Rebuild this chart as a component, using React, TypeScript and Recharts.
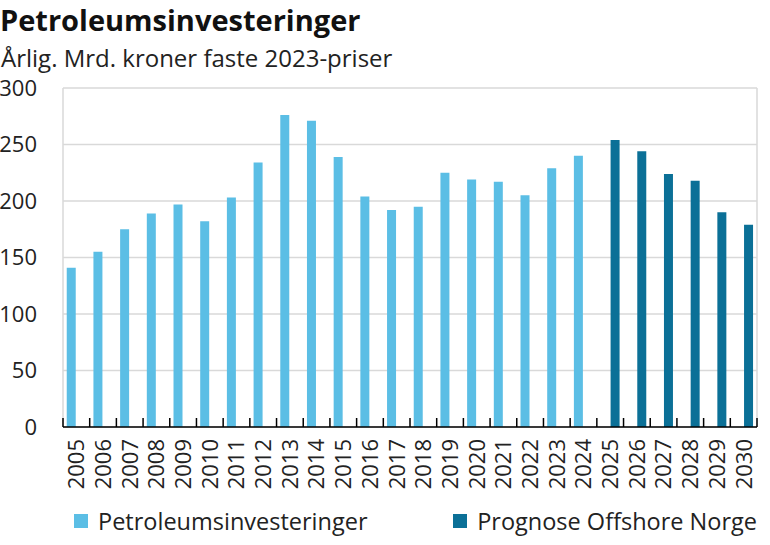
import React from "react";
import { BarChart, Bar, XAxis, YAxis, CartesianGrid } from "recharts";

const years = [
    "2005", "2006", "2007", "2008", "2009", "2010", "2011", "2012", "2013",
    "2014", "2015", "2016", "2017", "2018", "2019", "2020", "2021", "2022",
    "2023", "2024", "2025", "2026", "2027", "2028", "2029", "2030",
];

// Mrd. kroner, faste 2023-priser
const investeringer: (number | null)[] = [
    141, 155, 175, 189, 197, 182, 203, 234, 276, 271, 239, 204, 192, 195,
    225, 219, 217, 205, 229, 240, null, null, null, null, null, null,
];

const prognose: (number | null)[] = [
    null, null, null, null, null, null, null, null, null, null, null, null,
    null, null, null, null, null, null, null, null, 254, 244, 224, 218, 190, 179,
];

const yTicks = [0, 50, 100, 150, 200, 250, 300];

const data = years.map((year, i) => ({
    year,
    investeringer: investeringer[i],
    prognose: prognose[i],
}));

const LIGHT = "#5bbee5";
const DARK = "#0b7097";
const FONT = "'Open Sans', sans-serif";

const W = 770;
const H = 545;
const M = { top: 88, right: 13, bottom: 48, left: 0 };
const Y_AXIS_W = 63;
const X_AXIS_H = 70;
const TICK_MARGIN = 12;
const PLOT_W = W - M.left - M.right - Y_AXIS_W;

const YearTick = (props: any) => {
    const { x, y, payload, index } = props;
    const band = PLOT_W / years.length;
    const axisY = y - TICK_MARGIN;
    return (
        <g>
            <line
                x1={x - band / 2}
                x2={x - band / 2}
                y1={axisY}
                y2={axisY - 9}
                stroke="#000"
                strokeWidth={1.5}
            />
            {index === years.length - 1 && (
                <line
                    x1={x + band / 2}
                    x2={x + band / 2}
                    y1={axisY}
                    y2={axisY - 9}
                    stroke="#000"
                    strokeWidth={1.5}
                />
            )}
            <text
                transform={`translate(${x},${y}) rotate(-90)`}
                textAnchor="end"
                dy="0.36em"
                fontSize={22}
                fontFamily={FONT}
                fill="#222"
            >
                {payload.value}
            </text>
        </g>
    );
};

const LegendItem = ({
    color,
    label,
    pos,
}: {
    color: string;
    label: string;
    pos: React.CSSProperties;
}) => (
    <div
        style={{
            position: "absolute",
            top: 506,
            display: "flex",
            alignItems: "center",
            fontSize: 23.5,
            lineHeight: "30px",
            color: "#222",
            whiteSpace: "nowrap",
            ...pos,
        }}
    >
        <span
            style={{
                display: "inline-block",
                width: 14,
                height: 14,
                background: color,
                marginRight: 10,
            }}
        />
        {label}
    </div>
);

export default function App() {
    return (
        <div
            style={{
                position: "fixed",
                left: 0,
                top: 0,
                width: W,
                height: H,
                background: "#fff",
                fontFamily: FONT,
                overflow: "hidden",
            }}
        >
            <div
                style={{
                    position: "absolute",
                    left: 0,
                    top: 0,
                    fontSize: 29,
                    fontWeight: 700,
                    lineHeight: "normal",
                    color: "#111",
                    whiteSpace: "nowrap",
                }}
            >
                Petroleumsinvesteringer
            </div>
            <div
                style={{
                    position: "absolute",
                    left: 1,
                    top: 43,
                    fontSize: 24,
                    lineHeight: "30px",
                    color: "#222",
                    whiteSpace: "nowrap",
                }}
            >
                Årlig. Mrd. kroner faste 2023-priser
            </div>

            <div style={{ position: "absolute", left: 0, top: 0 }}>
                <BarChart
                    width={W}
                    height={H}
                    data={data}
                    margin={M}
                    barCategoryGap="14%"
                    barGap={1}
                >
                    <CartesianGrid
                        stroke="#d9d9d9"
                        strokeWidth={1.5}
                        verticalCoordinatesGenerator={({ offset }: any) => [
                            offset.left,
                            offset.left + offset.width,
                        ]}
                    />
                    <XAxis
                        dataKey="year"
                        interval={0}
                        height={X_AXIS_H}
                        axisLine={{ stroke: "#000", strokeWidth: 1.5 }}
                        tickLine={false}
                        tickSize={0}
                        tickMargin={TICK_MARGIN}
                        tick={<YearTick />}
                    />
                    <YAxis
                        width={Y_AXIS_W}
                        domain={[0, 300]}
                        ticks={yTicks}
                        interval={0}
                        axisLine={false}
                        tickLine={false}
                        tickSize={0}
                        tickMargin={26}
                        tick={{ fontSize: 22, fill: "#222", fontFamily: FONT }}
                    />
                    <Bar
                        dataKey="investeringer"
                        name="Petroleumsinvesteringer"
                        fill={LIGHT}
                        isAnimationActive={false}
                    />
                    <Bar
                        dataKey="prognose"
                        name="Prognose Offshore Norge"
                        fill={DARK}
                        isAnimationActive={false}
                    />
                </BarChart>
            </div>

            <LegendItem color={LIGHT} label="Petroleumsinvesteringer" pos={{ left: 74 }} />
            <LegendItem color={DARK} label="Prognose Offshore Norge" pos={{ right: 13 }} />
        </div>
    );
}
